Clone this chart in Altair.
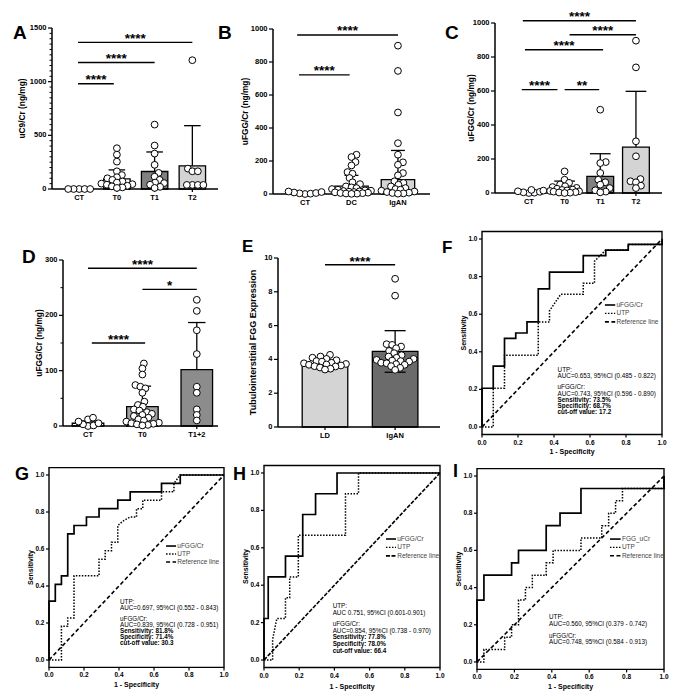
import altair as alt
import pandas as pd

FONT = "Liberation Sans"

# ---------------- Panel A : uC9/Cr ----------------
A_groups = ["CT", "T0", "T1", "T2"]
A_mean = [0, 95, 163, 216]
A_sd = [0, 83, 182, 374]
A_fill = ["#ffffff", "#ffffff", "#808080", "#d4d4d4"]
A_CT = [0, 0, 0, 0, 0]
A_T0 = [380, 320, 255, 165, 130, 110, 100, 85, 70, 60, 50, 45, 40, 30, 25, 15, 10]
A_T1 = [600, 405, 330, 225, 150, 115, 85, 60, 55, 40, 20, 10]
A_T2 = [1200, 190, 165, 165, 38, 38, 38, 38]
A_sig_from = [-0.03, -0.03, -0.03]
A_sig_to = [3.0, 2.0, 0.92]
A_sig_y = [1366, 1178, 981]
A_sig_lab = ["****", "****", "****"]

# ---------------- Panel B : uFGG/Cr CT / DC / IgAN ----------------
B_groups = ["CT", "DC", "IgAN"]
B_mean = [5, 48, 87]
B_sd = [5, 65, 177]
B_fill = ["#ffffff", "#ffffff", "#d4d4d4"]
B_CT = [0, 2, 4, 6, 9, 12, 15]
B_DC = [238, 224, 194, 173, 133, 123, 97, 71, 60, 46, 40, 36, 30, 26, 22, 20, 18, 16, 14, 12, 10, 8, 6, 5, 3, 2, 1]
B_IgAN = [899, 746, 494, 308, 238, 192, 177, 127, 113, 77, 67, 56, 46, 36, 30, 26, 20, 15, 12, 8, 6, 4, 2]
B_sig_from = [-0.17, -0.13]
B_sig_to = [2.0, 0.96]
B_sig_y = [964, 722]
B_sig_lab = ["****", "****"]

# ---------------- Panel C : uFGG/Cr CT / T0 / T1 / T2 ----------------
C_groups = ["CT", "T0", "T1", "T2"]
C_mean = [6, 35, 98, 270]
C_sd = [5, 35, 133, 328]
C_fill = ["#ffffff", "#ffffff", "#808080", "#d4d4d4"]
C_CT = [0, 2, 4, 7, 10, 14, 18]
C_T0 = [127, 78, 60, 50, 40, 35, 30, 25, 20, 18, 15, 12, 10, 8, 5, 3, 2, 0]
C_T1 = [490, 182, 176, 118, 78, 63, 49, 29, 16, 8, 4]
C_T2 = [896, 739, 304, 216, 82, 69, 63, 43, 29]
C_sig_from = [-0.17, 1.14, -0.11, -0.2, 1.0]
C_sig_to = [3.0, 3.0, 2.08, 0.8, 1.97]
C_sig_y = [1013, 931, 843, 608, 608]
C_sig_lab = ["****", "****", "****", "****", "**"]

# ---------------- Panel D : uFGG/Cr CT / T0 / T1+2 ----------------
D_groups = ["CT", "T0", "T1+2"]
D_mean = [5, 35, 102]
D_sd = [4, 37, 85]
D_fill = ["#ffffff", "#a0a0a0", "#8c8c8c"]
D_CT = [0, 1, 3, 5, 8, 12, 15]
D_T0 = [113, 104, 93, 74, 71, 68, 60, 44, 38, 35, 30, 28, 25, 22, 20, 18, 15, 12, 10, 8, 6, 5, 4, 3, 2, 1]
D_T12 = [228, 208, 173, 130, 71, 60, 30, 20, 10]
D_sig_from = [0.0, 1.0, 0.07]
D_sig_to = [2.0, 2.0, 1.05]
D_sig_y = [285, 247, 150]
D_sig_lab = ["****", "*", "****"]

# ---------------- Panel E : tubulointerstitial FGG ----------------
E_groups = ["LD", "IgAN"]
E_mean = [3.7, 4.47]
E_sd = [0.25, 1.23]
E_fill = ["#d4d4d4", "#6b6b6b"]
E_LD = [4.27, 4.17, 4.1, 4.03, 3.95, 3.9, 3.87, 3.8, 3.77, 3.73, 3.7, 3.68, 3.64, 3.6, 3.58, 3.52, 3.45, 3.4]
E_IgAN = [8.77, 7.77, 4.9, 4.86, 4.76, 4.66, 4.5, 4.37, 4.25, 4.17, 4.1, 4.03, 3.97, 3.93, 3.9,
          3.87, 3.8, 3.77, 3.72, 3.68, 3.6, 3.5, 3.38]
E_sig_from = [0.0]
E_sig_to = [1.0]
E_sig_y = [9.6]
E_sig_lab = ["****"]

# ---------------- ROC curves ----------------
ROC_ticks = [0.0, 0.2, 0.4, 0.6, 0.8, 1.0]
ROC_ydom = [-0.04, 1.04]
ref_x = [0.0, 1.0]
ref_y = [0.0, 1.0]

F_fgg_x = [0, 0, 0.0625, 0.0625, 0.125, 0.125, 0.1875, 0.1875, 0.25, 0.25, 0.3125, 0.3125, 0.375, 0.375,
           0.5625, 0.5625, 0.6875, 0.6875, 0.8125, 0.8125, 1.0, 1.0]
F_fgg_y = [0, 0.206, 0.206, 0.324, 0.324, 0.471, 0.471, 0.5, 0.5, 0.559, 0.559, 0.735, 0.735, 0.824,
           0.824, 0.912, 0.912, 0.941, 0.941, 0.971, 0.971, 1.0]
F_utp_x = [0, 0.0625, 0.0625, 0.125, 0.125, 0.3125, 0.3125, 0.375, 0.375, 0.4375, 0.5625, 0.5625,
           0.625, 0.625, 0.6875, 0.8125, 0.8125, 1.0, 1.0]
F_utp_y = [0, 0, 0.206, 0.206, 0.382, 0.382, 0.559, 0.559, 0.618, 0.706, 0.706, 0.765, 0.765, 0.882,
           0.941, 0.941, 0.971, 0.971, 1.0]
F_legend = ["uFGG/Cr", "UTP", "Reference line"]
F_text = ["UTP:", "AUC=0.653, 95%CI (0.485 - 0.822)", "", "uFGG/Cr:", "AUC=0.743, 95%CI (0.596 - 0.890)",
          "Sensitivity: 73.5%", "Specificity: 68.7%", "cut-off value: 17.2"]

G_fgg_x = [0, 0, 0.036, 0.036, 0.071, 0.071, 0.107, 0.107, 0.143, 0.143, 0.214, 0.214, 0.286, 0.286,
           0.393, 0.393, 0.464, 0.464, 0.643, 0.643, 0.75, 0.75, 1.0]
G_fgg_y = [0, 0.318, 0.318, 0.409, 0.409, 0.455, 0.455, 0.682, 0.682, 0.727, 0.727, 0.773, 0.773, 0.818,
           0.818, 0.864, 0.864, 0.909, 0.909, 0.955, 0.955, 1.0, 1.0]
G_utp_x = [0, 0.071, 0.071, 0.107, 0.107, 0.143, 0.143, 0.286, 0.286, 0.321, 0.321, 0.357, 0.357, 0.393,
           0.393, 0.429, 0.464, 0.464, 0.5, 0.5, 0.536, 0.536, 0.643, 0.643, 0.714, 0.714, 0.75, 1.0]
G_utp_y = [0, 0, 0.182, 0.182, 0.227, 0.227, 0.455, 0.455, 0.545, 0.545, 0.591, 0.591, 0.636, 0.636,
           0.727, 0.755, 0.773, 0.773, 0.773, 0.818, 0.818, 0.864, 0.864, 0.909, 0.909, 0.955, 1.0, 1.0]
G_legend = ["uFGG/Cr", "UTP", "Reference line"]
G_text = ["UTP:", "AUC=0.697, 95%CI (0.552 - 0.843)", "", "uFGG/Cr:", "AUC=0.839, 95%CI (0.728 - 0.951)",
          "Sensitivity: 81.8%", "Specificity: 71.4%", "cut-off value: 30.3"]

H_fgg_x = [0, 0, 0.024, 0.024, 0.122, 0.122, 0.22, 0.22, 0.293, 0.293, 0.415, 0.415, 1.0]
H_fgg_y = [0, 0.222, 0.222, 0.444, 0.444, 0.556, 0.556, 0.778, 0.778, 0.889, 0.889, 1.0, 1.0]
H_utp_x = [0, 0.049, 0.049, 0.073, 0.122, 0.122, 0.146, 0.146, 0.195, 0.195, 0.463, 0.463, 0.537, 0.537, 1.0]
H_utp_y = [0, 0, 0.111, 0.222, 0.222, 0.333, 0.333, 0.444, 0.444, 0.667, 0.667, 0.889, 0.889, 1.0, 1.0]
H_legend = ["uFGG/Cr", "UTP", "Reference line"]
H_text = ["UTP:", "AUC 0.751, 95%CI (0.601-0.901)", "", "uFGG/Cr:", "AUC=0.854, 95%CI (0.738 - 0.970)",
          "Sensitivity: 77.8%", "Specificity: 78.0%", "cut-off value: 66.4"]

I_fgg_x = [0, 0, 0.037, 0.037, 0.185, 0.185, 0.222, 0.222, 0.37, 0.37, 0.444, 0.444, 0.556, 0.556, 1.0, 1.0]
I_fgg_y = [0, 0.333, 0.333, 0.467, 0.467, 0.533, 0.533, 0.6, 0.6, 0.733, 0.733, 0.8, 0.8, 0.933, 0.933, 1.0]
I_utp_x = [0, 0.037, 0.037, 0.148, 0.148, 0.185, 0.185, 0.222, 0.222, 0.259, 0.259, 0.296, 0.296, 0.37,
           0.37, 0.407, 0.407, 0.556, 0.556, 0.667, 0.667, 0.704, 0.704, 0.741, 0.741, 0.778, 0.778, 1.0, 1.0]
I_utp_y = [0, 0, 0.067, 0.067, 0.133, 0.133, 0.2, 0.2, 0.333, 0.333, 0.4, 0.4, 0.467, 0.467, 0.533, 0.533,
           0.6, 0.6, 0.667, 0.667, 0.733, 0.733, 0.8, 0.8, 0.867, 0.867, 0.933, 0.933, 1.0]
I_legend = ["FGG_uCr", "UTP", "Reference line"]
I_text = ["UTP:", "AUC=0.560, 95%CI (0.379 - 0.742)", "", "uFGG/Cr:", "AUC=0.748, 95%CI (0.584 - 0.913)"]

# ---------------- layout (page pixels) ----------------
COLS = [(8, 220), (228, 222), (450, 227)]
ROWS = [(8, 204), (212, 233), (445, 246)]


def swarm(vals, px_per_unit, diam, maxw):
    order = sorted(range(len(vals)), key=lambda i: vals[i])
    cands = [0.0]
    k = 1
    while k * 0.5 <= maxw:
        cands += [k * 0.5, -k * 0.5]
        k += 1
    placed, offs = [], [0.0] * len(vals)
    for i in order:
        y = vals[i] * px_per_unit
        best, bestd = 0.0, -1.0
        for c in cands:
            d = min([((c - px) ** 2 + (y - py) ** 2) ** 0.5 for px, py in placed] or [1e9])
            if d >= diam:
                best = c
                break
            if d > bestd:
                best, bestd = c, d
        offs[i] = best
        placed.append((best, y))
    return offs


def one(**kw):
    return pd.DataFrame({k: [v] for k, v in kw.items()})


def letter_layer(letter, pos, cx, cy, size):
    return alt.Chart(one(t=letter)).mark_text(
        align="left", baseline="alphabetic", font=FONT, fontSize=size, fontWeight="bold", color="black"
    ).encode(x=alt.value(pos[0] - cx), y=alt.value(pos[1] - cy), text="t:N")


def y_axis_layers(ys, ticks, labels, x0, lo, hi, title, tdx, ymid, lfs, tfs, tick_len, domain=True):
    out = []
    if domain:
        out.append(alt.Chart(one(a=lo, b=hi)).mark_rule(color="black", strokeWidth=1.5).encode(
            y=alt.Y("a:Q", scale=ys, axis=None), y2="b:Q", x=alt.value(x0)))
    tk = pd.DataFrame({"v": ticks, "lab": labels})
    out.append(alt.Chart(tk).mark_rule(color="black", strokeWidth=1.2).encode(
        y=alt.Y("v:Q", scale=ys, axis=None), x=alt.value(x0 - tick_len), x2=alt.value(x0)))
    out.append(alt.Chart(tk).mark_text(align="right", baseline="middle", font=FONT, fontSize=lfs,
                                       fontWeight="bold", color="black").encode(
        y=alt.Y("v:Q", scale=ys, axis=None), x=alt.value(x0 - tick_len - 1.5), text="lab:N"))
    out.append(alt.Chart(one(t=title)).mark_text(angle=270, align="center", baseline="middle", font=FONT,
                                                 fontSize=tfs, fontWeight="bold", color="black").encode(
        x=alt.value(x0 - tdx), y=alt.value(ymid), text="t:N"))
    return out


def x_axis_layers(xs, ticks, labels, yb, lo, hi, lfs, tick_len, domain=True):
    out = []
    if domain:
        out.append(alt.Chart(one(a=lo, b=hi)).mark_rule(color="black", strokeWidth=1.5).encode(
            x=alt.X("a:Q", scale=xs, axis=None), x2="b:Q", y=alt.value(yb)))
    tk = pd.DataFrame({"v": ticks, "lab": labels})
    out.append(alt.Chart(tk).mark_rule(color="black", strokeWidth=1.2).encode(
        x=alt.X("v:Q", scale=xs, axis=None), y=alt.value(yb), y2=alt.value(yb + tick_len)))
    out.append(alt.Chart(tk).mark_text(align="center", baseline="top", font=FONT, fontSize=lfs,
                                       fontWeight="bold", color="black").encode(
        x=alt.X("v:Q", scale=xs, axis=None), y=alt.value(yb + tick_len + 2), text="lab:N"))
    return out


def bar_panel(letter, lpos, groups, means, sds, pts, fills, sfrom, sto, sy, slab, g, ytitle, yticks,
              minor, barw, capw, both, ytdx, ytfs=8.3, lfs=7.5, starfs=13.5, stardy=0.5, lsize=19):
    cx, cw = COLS[g["col"]]
    cy, ch = ROWS[g["row"]]
    x0, x1 = g["x0"] - cx, g["x1"] - cx
    yt, yb = g["ytop"] - cy, g["ybot"] - cy
    xs = alt.Scale(domain=g["xdom"], range=[x0, x1], nice=False, zero=False)
    ys = alt.Scale(domain=g["ydom"], range=[yb, yt], nice=False, zero=False)
    n = len(groups)
    bars = pd.DataFrame({"i": list(range(n)), "m": means, "sd": sds, "fill": fills})
    bars["l"] = bars["i"] - barw / 2
    bars["r"] = bars["i"] + barw / 2
    bars["z"] = 0.0
    bars["top"] = bars["m"] + bars["sd"]
    bars["bot"] = (bars["m"] - bars["sd"]).clip(lower=0)
    bars["cl"] = bars["i"] - capw
    bars["cr"] = bars["i"] + capw
    bars = bars[bars["m"] > 0]

    layers = []
    layers.append(alt.Chart(bars).mark_bar(stroke="black", strokeWidth=1.3).encode(
        x=alt.X("l:Q", scale=xs, axis=None), x2="r:Q",
        y=alt.Y("z:Q", scale=ys, axis=None), y2="m:Q",
        color=alt.Color("fill:N", scale=None)))
    layers += x_axis_layers(xs, list(range(n)), groups, yb, g["xdom"][0], g["xdom"][1], lfs, 3)
    ebase = alt.Chart(bars[bars["sd"] > 0])
    layers.append(ebase.mark_rule(color="black", strokeWidth=1.3).encode(
        x=alt.X("i:Q", scale=xs, axis=None),
        y=alt.Y("bot:Q" if both else "m:Q", scale=ys, axis=None), y2="top:Q"))
    layers.append(ebase.mark_rule(color="black", strokeWidth=1.3).encode(
        x=alt.X("cl:Q", scale=xs, axis=None), x2="cr:Q", y=alt.Y("top:Q", scale=ys, axis=None)))
    if both:
        layers.append(ebase.mark_rule(color="black", strokeWidth=1.3).encode(
            x=alt.X("cl:Q", scale=xs, axis=None), x2="cr:Q", y=alt.Y("bot:Q", scale=ys, axis=None)))

    ppu = (g["ybot"] - g["ytop"]) / (g["ydom"][1] - g["ydom"][0])
    ppi = (g["x1"] - g["x0"]) / (g["xdom"][1] - g["xdom"][0])
    px, py = [], []
    for i, vals in enumerate(pts):
        offs = swarm(vals, ppu, 5.2, 0.42 * ppi)
        px += [i + o / ppi for o in offs]
        py += list(vals)
    layers.append(alt.Chart(pd.DataFrame({"x": px, "y": py})).mark_point(
        shape="circle", filled=True, fill="white", stroke="black", strokeWidth=1, size=46, opacity=1
    ).encode(x=alt.X("x:Q", scale=xs, axis=None), y=alt.Y("y:Q", scale=ys, axis=None)))

    sig = pd.DataFrame({"a": sfrom, "b": sto, "y": sy, "lab": slab})
    sig["m"] = (sig["a"] + sig["b"]) / 2
    layers.append(alt.Chart(sig).mark_rule(color="black", strokeWidth=1.4).encode(
        x=alt.X("a:Q", scale=xs, axis=None), x2="b:Q", y=alt.Y("y:Q", scale=ys, axis=None)))
    layers.append(alt.Chart(sig).mark_text(font=FONT, fontSize=starfs, fontWeight="bold", color="black",
                                           baseline="alphabetic", dy=stardy).encode(
        x=alt.X("m:Q", scale=xs, axis=None), y=alt.Y("y:Q", scale=ys, axis=None), text="lab:N"))
    layers += y_axis_layers(ys, yticks, [str(v) for v in yticks], x0, g["ydom"][0], g["ydom"][1],
                            ytitle, ytdx, (yt + yb) / 2, lfs, ytfs, 4)
    if minor:
        layers.append(alt.Chart(pd.DataFrame({"v": minor})).mark_rule(color="black", strokeWidth=1).encode(
            y=alt.Y("v:Q", scale=ys, axis=None), x=alt.value(x0 - 2.5), x2=alt.value(x0)))
    layers.append(letter_layer(letter, lpos, cx, cy, lsize))
    return alt.layer(*layers).properties(width=cw, height=ch)


def roc_panel(letter, lpos, solid_x, solid_y, dot_x, dot_y, legend, leg, text, ann, g,
              refdash=(4, 2.5), lsize=18):
    cx, cw = COLS[g["col"]]
    cy, ch = ROWS[g["row"]]
    bx0, bx1 = g["x0"] - cx, g["x1"] - cx
    yt, yb = g["ytop"] - cy, g["ybot"] - cy
    xs = alt.Scale(domain=[0, 1], range=[bx0, bx1], nice=False, zero=False)
    ys = alt.Scale(domain=ROC_ydom, range=[yb, yt], nice=False, zero=False)
    labs = ["%.1f" % v for v in ROC_ticks]
    layers = []
    layers.append(alt.Chart(one(a=0.0, b=1.0, c=ROC_ydom[0], d=ROC_ydom[1])).mark_rect(
        fillOpacity=0, stroke="black", strokeWidth=1.4).encode(
        x=alt.X("a:Q", scale=xs, axis=None), x2="b:Q", y=alt.Y("c:Q", scale=ys, axis=None), y2="d:Q"))
    layers += x_axis_layers(xs, ROC_ticks, labs, yb, 0, 1, 6.5, 3, domain=False)
    layers.append(alt.Chart(one(t="1 - Specificity")).mark_text(
        align="center", baseline="middle", font=FONT, fontSize=7, fontWeight="bold", color="black").encode(
        x=alt.value((bx0 + bx1) / 2), y=alt.value(yb + g["tdy"]), text="t:N"))
    layers += y_axis_layers(ys, ROC_ticks, labs, bx0, 0, 1, "Sensitivity", 18.5, (yt + yb) / 2,
                            6.5, 7, 3, domain=False)

    def line(xv, yv, dash, w):
        df = pd.DataFrame({"x": xv, "y": yv, "i": list(range(len(xv)))})
        kw = dict(color="black", strokeWidth=w, strokeCap="butt")
        if dash:
            kw["strokeDash"] = list(dash)
        return alt.Chart(df).mark_line(**kw).encode(
            x=alt.X("x:Q", scale=xs, axis=None), y=alt.Y("y:Q", scale=ys, axis=None), order="i:Q")

    dotdash = (1.5, 1.5)
    layers.append(line(ref_x, ref_y, refdash, 1.6))
    layers.append(line(dot_x, dot_y, dotdash, 1.5))
    layers.append(line(solid_x, solid_y, None, 1.7))

    lx, ly, step = leg
    dashes = [None, dotdash, refdash]
    for k, lab in enumerate(legend):
        yv = ly - k * step
        kw = dict(color="black", strokeWidth=1.6 if k != 1 else 1.3)
        if dashes[k]:
            kw["strokeDash"] = list(dashes[k])
        layers.append(alt.Chart(one(a=lx, b=lx + 0.057, y=yv)).mark_rule(**kw).encode(
            x=alt.X("a:Q", scale=xs, axis=None), x2="b:Q", y=alt.Y("y:Q", scale=ys, axis=None)))
        layers.append(alt.Chart(one(a=lx + 0.064, y=yv, t=lab)).mark_text(
            align="left", baseline="middle", font=FONT, fontSize=6.5, color="#444444").encode(
            x=alt.X("a:Q", scale=xs, axis=None), y=alt.Y("y:Q", scale=ys, axis=None), text="t:N"))

    ax, ay, lh = ann
    off = 0.0
    for t in text:
        if t == "":
            off += 5.0
            continue
        bold = t.startswith(("Sens", "Spec", "cut"))
        layers.append(alt.Chart(one(a=ax, y=ay, t=t)).mark_text(
            align="left", baseline="middle", font=FONT, fontSize=6.3, dy=off,
            fontWeight="bold" if bold else "normal", color="black").encode(
            x=alt.X("a:Q", scale=xs, axis=None), y=alt.Y("y:Q", scale=ys, axis=None), text="t:N"))
        off += lh
    layers.append(letter_layer(letter, lpos, cx, cy, lsize))
    return alt.layer(*layers).properties(width=cw, height=ch)


pA = bar_panel("A", (13, 39), A_groups, A_mean, A_sd, [A_CT, A_T0, A_T1, A_T2], A_fill,
               A_sig_from, A_sig_to, A_sig_y, A_sig_lab,
               dict(col=0, row=0, x0=52, x1=218, ytop=28, ybot=189, xdom=[-0.72, 3.68], ydom=[0, 1500]),
               "uC9/Cr (ng/mg)", [0, 500, 1000, 1500], [v for v in range(50, 1500, 50) if v % 500],
               0.7, 0.22, False, 29)
pB = bar_panel("B", (218, 39), B_groups, B_mean, B_sd, [B_CT, B_DC, B_IgAN], B_fill,
               B_sig_from, B_sig_to, B_sig_y, B_sig_lab,
               dict(col=1, row=0, x0=273, x1=430, ytop=29, ybot=194, xdom=[-0.69, 2.69], ydom=[0, 1000]),
               "uFGG/Cr (ng/mg)", [0, 200, 400, 600, 800, 1000], [], 0.72, 0.15, False, 27)
pC = bar_panel("C", (445, 39), C_groups, C_mean, C_sd, [C_CT, C_T0, C_T1, C_T2], C_fill,
               C_sig_from, C_sig_to, C_sig_y, C_sig_lab,
               dict(col=2, row=0, x0=495, x1=662, ytop=23, ybot=193, xdom=[-0.95, 3.73], ydom=[0, 1000]),
               "uFGG/Cr (ng/mg)", [0, 200, 400, 600, 800, 1000], [], 0.75, 0.29, False, 23)
pD = bar_panel("D", (22, 263), D_groups, D_mean, D_sd, [D_CT, D_T0, D_T12], D_fill,
               D_sig_from, D_sig_to, D_sig_y, D_sig_lab,
               dict(col=0, row=1, x0=63, x1=218, ytop=260, ybot=426, xdom=[-0.46, 2.39], ydom=[0, 300]),
               "uFGG/Cr (ng/mg)", [0, 100, 200, 300], [50, 150, 250], 0.58, 0.16, False, 23)
pE = bar_panel("E", (242, 252), E_groups, E_mean, E_sd, [E_LD, E_IgAN], E_fill,
               E_sig_from, E_sig_to, E_sig_y, E_sig_lab,
               dict(col=1, row=1, x0=278, x1=440, ytop=258, ybot=427, xdom=[-0.67, 1.64], ydom=[0, 10]),
               "Tubulointerstitial FGG Expression", [0, 2, 4, 6, 8, 10], [], 0.65, 0.15, True, 25,
               ytfs=9, stardy=1.5, lsize=17)
pF = roc_panel("F", (442, 253), F_fgg_x, F_fgg_y, F_utp_x, F_utp_y, F_legend, (0.683, 0.649, 0.045),
               F_text, (0.42, 0.303, 6.2),
               dict(col=2, row=1, x0=482, x1=662, ytop=231.5, ybot=434.5, tdy=17), lsize=17)
pG = roc_panel("G", (15, 480), G_fgg_x, G_fgg_y, G_utp_x, G_utp_y, G_legend, (0.669, 0.616, 0.043),
               G_text, (0.406, 0.314, 6.0),
               dict(col=0, row=2, x0=49, x1=224, ytop=467.6, ybot=667.4, tdy=18))
pH = roc_panel("H", (233, 480), H_fgg_x, H_fgg_y, H_utp_x, H_utp_y, H_legend, (0.693, 0.647, 0.045),
               H_text, (0.39, 0.289, 6.6),
               dict(col=1, row=2, x0=264, x1=440, ytop=465.5, ybot=667.5, tdy=19), refdash=(4, 1.5))
pI = roc_panel("I", (453, 477), I_fgg_x, I_fgg_y, I_utp_x, I_utp_y, I_legend, (0.711, 0.661, 0.045),
               I_text, (0.385, 0.242, 6.8),
               dict(col=2, row=2, x0=477, x1=664, ytop=468.6, ybot=669.4, tdy=18))

chart = alt.concat(pA, pB, pC, pD, pE, pF, pG, pH, pI, columns=3, spacing=0, bounds="flush").properties(
    padding=0).configure_view(strokeWidth=0)

chart.save("out.html", embed_options={"renderer": "svg", "actions": False})
